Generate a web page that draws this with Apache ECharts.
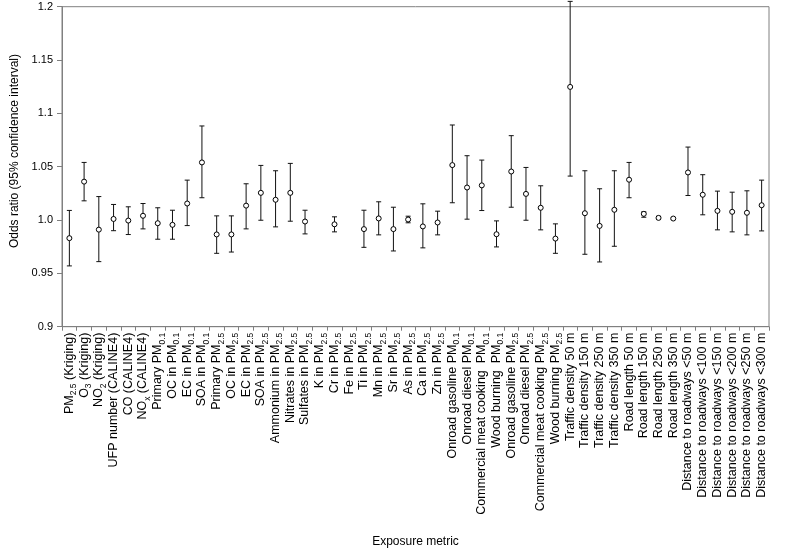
<!DOCTYPE html>
<html>
<head>
<meta charset="utf-8">
<script src="https://cdn.jsdelivr.net/npm/echarts@6/dist/echarts.min.js"></script>
<style>
html,body{margin:0;padding:0;background:#fff;}
#chart{width:785px;height:557px;}
</style>
</head>
<body>
<div id="chart"></div>
<script>
const categories = [
  'PM{s|2.5} (Kriging)', 'O{s|3} (Kriging)', 'NO{s|2} (Kriging)', 'UFP number (CALINE4)',
  'CO (CALINE4)', 'NO{s|x} (CALINE4)', 'Primary PM{s|0.1}', 'OC in PM{s|0.1}',
  'EC in PM{s|0.1}', 'SOA in PM{s|0.1}', 'Primary PM{s|2.5}', 'OC in PM{s|2.5}',
  'EC in PM{s|2.5}', 'SOA in PM{s|2.5}', 'Ammonium in PM{s|2.5}', 'Nitrates in PM{s|2.5}',
  'Sulfates in PM{s|2.5}', 'K in PM{s|2.5}', 'Cr in PM{s|2.5}', 'Fe in PM{s|2.5}',
  'Ti in PM{s|2.5}', 'Mn in PM{s|2.5}', 'Sr in PM{s|2.5}', 'As in PM{s|2.5}',
  'Ca in PM{s|2.5}', 'Zn in PM{s|2.5}', 'Onroad gasoline PM{s|0.1}', 'Onroad diesel PM{s|0.1}',
  'Commercial meat cooking  PM{s|0.1}', 'Wood burning  PM{s|0.1}', 'Onroad gasoline PM{s|2.5}', 'Onroad diesel PM{s|2.5}',
  'Commercial meat cooking PM{s|2.5}', 'Wood burning PM{s|2.5}', 'Traffic density 50 m', 'Traffic density 150 m',
  'Traffic density 250 m', 'Traffic density 350 m', 'Road length 50 m', 'Road length 150 m',
  'Road length 250 m', 'Road length 350 m', 'Distance to roadways <50 m', 'Distance to roadways <100 m',
  'Distance to roadways <150 m', 'Distance to roadways <200 m', 'Distance to roadways <250 m', 'Distance to roadways <300 m'
];
const oddsRatio = [
  0.983, 1.036, 0.991, 1.001, 0.9995, 1.004, 0.997, 0.9955,
  1.0155, 1.054, 0.9865, 0.9865, 1.0135, 1.0255, 1.019, 1.0255,
  0.9986, null, 0.996, null, 0.9915, 1.0015, 0.9915, 1.0005,
  0.994, 0.9977, 1.0515, 1.0305, 1.0325, 0.9867, 1.0455, 1.0245,
  1.0115, 0.9826, 1.1248, 1.0064, 0.9945, 1.0096, 1.0378, 1.0058,
  1.002, 1.0014, 1.0446, 1.0237, 1.0086, 1.0077, 1.0068, 1.0139
];
const lowerCI = [
  0.957, 1.018, 0.961, 0.990, 0.9864, 0.9917, 0.982, 0.982,
  0.9948, 1.0209, 0.9688, 0.970, 0.9917, 0.9998, 0.9936, 0.9989,
  0.987, null, 0.9889, null, 0.9744, 0.9861, 0.971, 0.9974,
  0.9739, 0.9861, 1.0162, 1.0008, 1.0089, 0.9748, 1.012, 0.9998,
  0.9908, 0.9688, 1.0412, 0.9679, 0.9607, 0.9754, 1.0209, 1.0026,
  1.0005, 1.0007, 1.023, 1.0049, 0.9908, 0.9889, 0.9861, 0.9898
];
const upperCI = [
  1.009, 1.054, 1.022, 1.0146, 1.0124, 1.0155, 1.0115, 1.0092,
  1.0374, 1.0882, 1.0039, 1.0039, 1.034, 1.0512, 1.0462, 1.0531,
  1.0092, null, 1.003, null, 1.0092, 1.0171, 1.012, 1.0036,
  1.0152, 1.0083, 1.0891, 1.0603, 1.0562, 0.9992, 1.0791, 1.0493,
  1.0321, 0.9964, 1.205, 1.0462, 1.0293, 1.0462, 1.054, 1.0077,
  1.0035, 1.0021, 1.0684, 1.0425, 1.0271, 1.0261, 1.0274, 1.0374
];
const yTickLabels = ['0.9', '0.95', '1.0', '1.05', '1.1', '1.15', '1.2'];
const yMin = 0.9, yMax = 1.2, yStep = 0.05;

const chart = echarts.init(document.getElementById('chart'), null, {renderer: 'canvas'});

const barData = [];
const pointData = [];
categories.forEach((c, i) => {
  if (oddsRatio[i] != null) {
    barData.push([i, lowerCI[i], upperCI[i]]);
    pointData.push([i, oddsRatio[i]]);
  }
});

function renderBar(params, api) {
  const x = api.value(0);
  const lo = api.coord([x, api.value(1)]);
  const hi = api.coord([x, api.value(2)]);
  const hw = 2.5;
  const st = {stroke: '#111', lineWidth: 1};
  return {
    type: 'group',
    children: [
      {type: 'line', shape: {x1: hi[0], y1: hi[1], x2: lo[0], y2: lo[1]}, style: st},
      {type: 'line', shape: {x1: hi[0] - hw, y1: hi[1], x2: hi[0] + hw, y2: hi[1]}, style: st},
      {type: 'line', shape: {x1: lo[0] - hw, y1: lo[1], x2: lo[0] + hw, y2: lo[1]}, style: st}
    ]
  };
}

const option = {
  animation: false,
  backgroundColor: '#fff',
  grid: {left: 62, right: 16, top: 6.7, bottom: 230.3, show: true, borderColor: '#808080', borderWidth: 1},
  xAxis: {
    type: 'category',
    data: categories,
    boundaryGap: true,
    name: 'Exposure metric',
    nameLocation: 'middle',
    nameGap: 209,
    nameTextStyle: {fontFamily: 'Liberation Sans', fontSize: 12, color: '#000'},
    axisLine: {lineStyle: {color: '#808080', width: 1}},
    axisTick: {show: true, length: 4, inside: false, alignWithLabel: false, lineStyle: {color: '#808080'}},
    axisLabel: {
      interval: 0,
      rotate: 90,
      margin: 6,
      hideOverlap: false,
      fontFamily: 'Liberation Sans',
      fontSize: 12.5,
      lineHeight: 18,
      color: '#000',
      rich: {
        s: {fontFamily: 'Liberation Sans', fontSize: 8.5, lineHeight: 8.5, verticalAlign: 'bottom', color: '#000'}
      }
    },
    splitLine: {show: false}
  },
  yAxis: {
    type: 'value',
    min: yMin,
    max: yMax,
    interval: yStep,
    axisLine: {show: true, lineStyle: {color: '#808080', width: 1}},
    axisTick: {show: true, length: 5, inside: false, lineStyle: {color: '#808080'}},
    axisLabel: {
      margin: 9,
      fontFamily: 'Liberation Sans',
      fontSize: 11,
      color: '#000',
      formatter: function (v) {
        const idx = Math.round((v - yMin) / yStep);
        return yTickLabels[idx] !== undefined ? yTickLabels[idx] : '';
      }
    },
    splitLine: {show: false}
  },
  graphic: [{
    type: 'text',
    left: 9,
    top: 54,
    rotation: Math.PI / 2,
    style: {
      text: 'Odds ratio (95% confidence interval)',
      fontFamily: 'Liberation Sans',
      fontSize: 12,
      fill: '#000'
    }
  }],
  series: [
    {
      type: 'custom',
      renderItem: renderBar,
      data: barData,
      encode: {x: 0, y: [1, 2]},
      z: 2
    },
    {
      type: 'scatter',
      data: pointData,
      symbol: 'circle',
      symbolSize: 5,
      itemStyle: {color: '#fff', borderColor: '#000', borderWidth: 1, opacity: 1},
      z: 3
    }
  ]
};
chart.setOption(option);
</script>
</body>
</html>
